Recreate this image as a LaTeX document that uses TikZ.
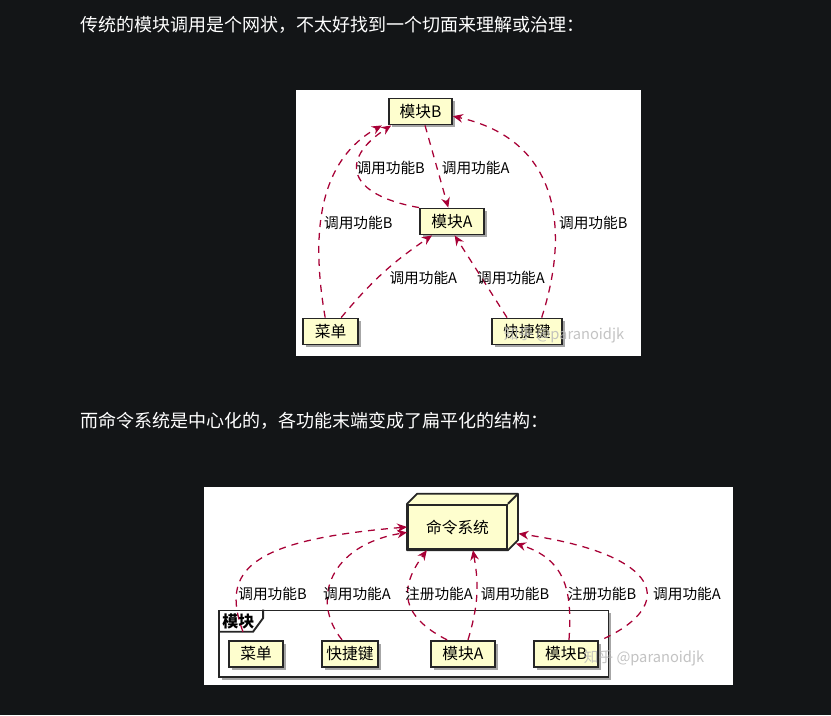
\documentclass[tikz,border=0pt]{standalone}
\usepackage{fontspec}
\setmainfont{Noto Sans CJK SC}
\usetikzlibrary{arrows.meta,shadows}

\definecolor{pagebg}{HTML}{131517}
\definecolor{umlfill}{HTML}{FEFECE}
\definecolor{umlline}{HTML}{A80036}

\pgfdeclarelayer{panel}
\pgfdeclarelayer{behind}
\pgfsetlayers{panel,behind,main}

\begin{document}
\begin{tikzpicture}[x=0.75pt,y=-0.75pt,
  umlbox/.style={draw=black!85, line width=1.4pt, fill=umlfill, inner sep=0pt,
    minimum height=19.5pt, font=\fontsize{11.8}{13}\selectfont,
    drop shadow={shadow xshift=2.2pt, shadow yshift=-2.2pt, fill=black, opacity=0.35}},
  dep/.style={draw=umlline, line width=0.95pt, dash pattern=on 5.25pt off 4.5pt,
    -{Stealth[length=7.5pt,width=6.5pt,inset=2.5pt]}},
  lbl/.style={font=\fontsize{11}{12}\selectfont, inner sep=0pt, text=black},
  heading/.style={anchor=west, inner sep=0pt, text=white, font=\fontsize{13.5}{15}\selectfont},
  wmark/.style={inner sep=0pt, text=gray!55, opacity=0.85, font=\fontsize{11}{12}\selectfont}]

% page
\useasboundingbox (0,0) rectangle (831,715);
\begin{pgfonlayer}{panel}
  \fill[pagebg] (0,0) rectangle (831,715);
  \fill[white] (296,90) rectangle (641,356);
  \fill[white] (204,487) rectangle (733,685);
\end{pgfonlayer}

\node[heading] (h1) at (80,25) {传统的模块调用是个网状，不太好找到一个切面来理解或治理：};
\node[heading] (h2) at (80,421) {而命令系统是中心化的，各功能末端变成了扁平化的结构：};

% ---- mesh of direct calls
\node[umlbox, minimum width=47.25pt] (tB) at (420.5,111.5) {模块B};
\node[umlbox, minimum width=48pt] (tA) at (452,221.5) {模块A};
\node[umlbox, minimum width=41.25pt] (tM) at (330.5,331.5) {菜单};
\node[umlbox, minimum width=52.5pt] (tK) at (527,331.5) {快捷键};

\draw[dep] ([xshift=3.4pt]tB.south) -- ([xshift=-2.8pt]tA.north);
\draw[dep] (tA.north west) .. controls (348,195) and (338,160) .. ([xshift=-22pt]tB.south);
\draw[dep] ([xshift=-4pt]tM.north) .. controls (310,230) and (320,160) .. ([xshift=-29pt]tB.south);
\draw[dep] ([xshift=8pt]tM.north) to[bend left=8] ([xshift=-15pt]tA.south);
\draw[dep] ([xshift=-15pt]tK.north) -- ([xshift=2pt]tA.south);
\draw[dep] ([xshift=11pt]tK.north) .. controls (570,230) and (560,140) .. ([yshift=-3.5pt]tB.east);

\node[lbl] (l1) at (475.7,168) {调用功能A};
\node[lbl] (l2) at (390.7,168) {调用功能B};
\node[lbl] (l3) at (358.3,223) {调用功能B};
\node[lbl] (l4) at (423.3,278) {调用功能A};
\node[lbl] (l5) at (511,278) {调用功能A};
\node[lbl] (l6) at (593.3,223) {调用功能B};

\node[wmark] (w1) at (564,335) {知乎 @paranoidjk};

% ---- central command system
\node[draw=black!85, line width=1.4pt, fill=umlfill, inner sep=0pt,
  minimum width=74.25pt, minimum height=33.4pt,
  font=\fontsize{11.8}{13}\selectfont] (cmd) at (457.5,527) {命令系统};
\begin{pgfonlayer}{behind}
  \fill[black, opacity=0.35, shift={(2.2pt,-2.2pt)}]
    (cmd.north west) -- ++(7.5pt,7.5pt) -- ([shift={(7.5pt,7.5pt)}]cmd.north east)
    -- ([shift={(7.5pt,7.5pt)}]cmd.south east) -- (cmd.south east) -- (cmd.south west) -- cycle;
  \filldraw[fill=umlfill, draw=black!85, line width=1.4pt, line join=round]
    (cmd.north west) -- ++(7.5pt,7.5pt) -- ([shift={(7.5pt,7.5pt)}]cmd.north east)
    -- ([shift={(7.5pt,7.5pt)}]cmd.south east) -- (cmd.south east) -- (cmd.south west) -- cycle;
  \draw[black!85, line width=1.4pt] (cmd.north east) -- ++(7.5pt,7.5pt);
\end{pgfonlayer}

% package of modules
\node[draw=black!85, line width=1.4pt, fill=white, inner sep=0pt,
  minimum width=292.1pt, minimum height=49.9pt,
  drop shadow={shadow xshift=2.2pt, shadow yshift=-2.2pt, fill=black, opacity=0.35}]
  (pk) at (413.75,643.75) {};
\draw[black!85, line width=1.4pt] (pk.north west) ++(33.75pt,0) -- ++(0,-6.4pt)
  -- ++(-7.5pt,-10.2pt) -- ++(-26.25pt,0);
\node[anchor=west, inner sep=0pt, font=\fontsize{12}{13}\bfseries\selectfont] (pkname) at (222,621) {模块};

\node[umlbox, minimum width=40.1pt] (bM) at (256,653.75) {菜单};
\node[umlbox, minimum width=42pt] (bK) at (350,653.75) {快捷键};
\node[umlbox, minimum width=48pt] (bA) at (463,653.75) {模块A};
\node[umlbox, minimum width=48pt] (bB) at (566,653.75) {模块B};

\draw[dep] ([shift={(-9.75pt,6pt)}]bM.north) .. controls (220,570) and (250,540) .. (cmd.west);
\draw[dep] ([xshift=-6pt]bK.north) .. controls (310,600) and (330,545) .. ([yshift=-4pt]cmd.west);
\draw[dep] ([xshift=-12pt]bA.north) .. controls (392,612) and (405,580) .. ([xshift=-23pt]cmd.south);
\draw[dep] ([xshift=3.75pt]bA.north) .. controls (480,600) and (478,580) .. ([xshift=11.6pt]cmd.south);
\draw[dep] ([xshift=2.25pt]bB.north) .. controls (572,595) and (568,560) .. ([shift={(6pt,5pt)}]cmd.south east);
\draw[dep] ([shift={(4pt,1pt)}]bB.north east) .. controls (675,605) and (665,555) .. ([shift={(8pt,-5pt)}]cmd.east);

\node[lbl] (b1) at (272.5,593.6) {调用功能B};
\node[lbl] (b2) at (357,593.6) {调用功能A};
\node[lbl] (b3) at (439,593.6) {注册功能A};
\node[lbl] (b4) at (515,593.6) {调用功能B};
\node[lbl] (b5) at (602,593.6) {注册功能B};
\node[lbl] (b6) at (687,593.6) {调用功能A};

\node[wmark] (w2) at (644,658) {知乎 @paranoidjk};
\end{tikzpicture}
\end{document}
